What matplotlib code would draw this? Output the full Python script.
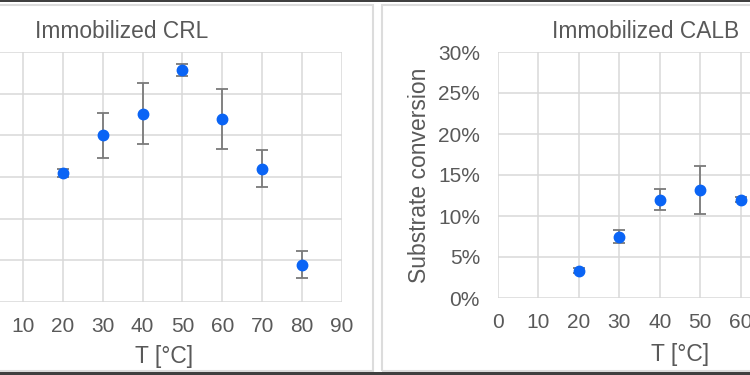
import matplotlib.pyplot as plt
from matplotlib.patches import Rectangle
from matplotlib.ticker import PercentFormatter

plt.rcParams['font.family'] = ['Liberation Sans', 'DejaVu Sans']

W, H = 750, 375

# temperature series [°C] and substrate conversion [%]
crl_temp = [20, 30, 40, 50, 60, 70, 80]
crl_conv = [15.5, 20.0, 22.6, 27.8, 22.0, 16.0, 4.5]
crl_err = [0.5, 2.7, 3.7, 0.7, 3.6, 2.2, 1.6]

calb_temp = [20, 30, 40, 50, 60]
calb_conv = [3.3, 7.5, 12.0, 13.2, 12.0]
calb_err = [0.3, 0.8, 1.3, 2.9, 0.3]

x_ticks = [0, 10, 20, 30, 40, 50, 60, 70, 80, 90]
y_ticks = [0, 5, 10, 15, 20, 25, 30]
# labels that fall inside the visible crop of each chart
crl_xlabels = ['', '10', '20', '30', '40', '50', '60', '70', '80', '90']
calb_xlabels = ['0', '10', '20', '30', '40', '50', '60', '', '', '']

txt = '#595959'
grid = '#d9d9d9'
blue = '#0a64f5'
ebar = '#7a7a7a'


def box(x0, y0, x1, y1):
    # pixel box (top-left origin) -> figure fraction rect
    return [x0 / W, 1 - y1 / H, (x1 - x0) / W, (y1 - y0) / H]


fig = plt.figure(figsize=(7.5, 3.75), dpi=100)

# chart frames
for x0, x1 in [(-20, 373), (382, 770)]:
    fig.patches.append(Rectangle((x0 / W, 1 - 371 / H), (x1 - x0) / W, 366 / H,
                                 transform=fig.transFigure, fill=False,
                                 edgecolor='#dcdcdc', lw=1.5))
fig.patches.append(Rectangle((0, 1 - 2 / H), 1, 2 / H, transform=fig.transFigure,
                             color='#404040', lw=0))
fig.patches.append(Rectangle((0, 0), 1, 3 / H, transform=fig.transFigure,
                             color='#404040', lw=0))


def panel(rect, temp, conv, err, xlabels, title, title_xy, label_xy, ylabel):
    ax = fig.add_axes(rect)
    ax.errorbar(temp, conv, yerr=err, fmt='o', color=blue, ms=7.5,
                ecolor=ebar, elinewidth=1.3, capsize=4, capthick=1.3, zorder=3)
    ax.set_xlim(0, 90)
    ax.set_ylim(0, 30)
    ax.set_xticks(x_ticks)
    ax.set_xticklabels(xlabels)
    ax.set_yticks(y_ticks)
    ax.yaxis.set_major_formatter(PercentFormatter(decimals=0))
    ax.grid(True, color=grid, lw=1.1)
    ax.set_axisbelow(True)
    for s in ax.spines.values():
        s.set_visible(False)
    ax.tick_params(length=0, labelsize=15, labelcolor=txt, pad=11)
    ax.tick_params(axis='y', pad=13, labelleft=ylabel is not None)
    fig.text(title_xy[0] / W, 1 - title_xy[1] / H, title, ha='center', va='center',
             fontsize=16.4, color=txt)
    fig.text(label_xy[0] / W, 1 - label_xy[1] / H, 'T [°C]', ha='center', va='center',
             fontsize=16.5, color=txt)
    if ylabel:
        ax.set_ylabel(ylabel, fontsize=16.5, color=txt, labelpad=5)
    return ax


panel(box(-17, 52, 342, 302), crl_temp, crl_conv, crl_err, crl_xlabels,
      'Immobilized CRL', (122, 31), (164, 357), None)
panel(box(498, 52, 862, 298), calb_temp, calb_conv, calb_err, calb_xlabels,
      'Immobilized CALB', (646, 32), (680, 355), 'Substrate conversion')

fig.savefig('out.png', dpi=100)
